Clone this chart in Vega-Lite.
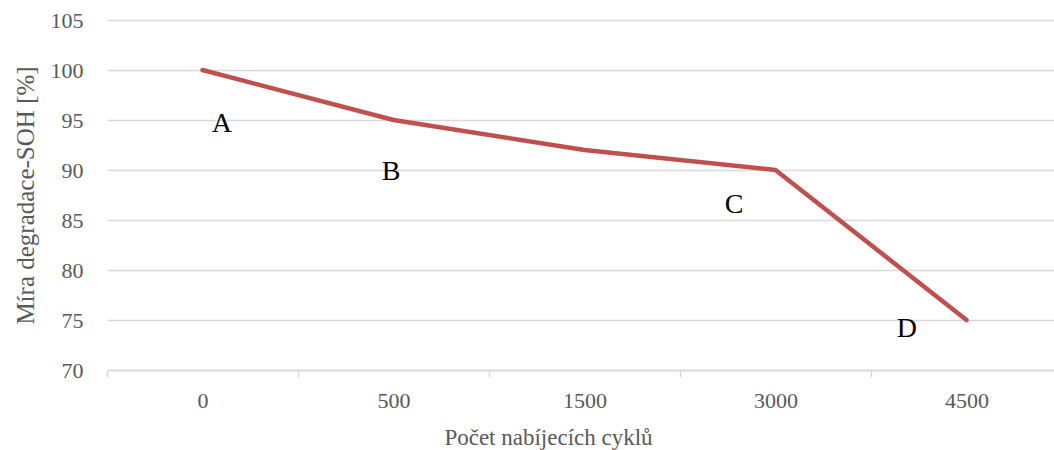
{
  "$schema": "https://vega.github.io/schema/vega-lite/v6.json",
  "autosize": "none",
  "width": 955,
  "height": 350,
  "padding": {"left": 107, "top": 20, "right": 0, "bottom": 80},
  "background": "white",
  "config": {
    "view": {"stroke": null},
    "font": "Liberation Serif"
  },
  "datasets": {
    "series": [
      {"cycles": "0", "soh": 100},
      {"cycles": "500", "soh": 95},
      {"cycles": "1500", "soh": 92},
      {"cycles": "3000", "soh": 90},
      {"cycles": "4500", "soh": 75}
    ],
    "notes": [
      {"pos": 0.602, "val": 93.8, "label": "A"},
      {"pos": 1.487, "val": 89.0, "label": "B"},
      {"pos": 3.283, "val": 85.7, "label": "C"},
      {"pos": 4.188, "val": 73.3, "label": "D"}
    ]
  },
  "layer": [
    {
      "data": {"name": "series"},
      "mark": {"type": "line", "color": "#C0504D", "strokeWidth": 4.5, "strokeCap": "round", "strokeJoin": "round"},
      "encoding": {
        "x": {
          "field": "cycles", "type": "ordinal", "sort": null,
          "scale": {"type": "band", "paddingInner": 0, "paddingOuter": 0},
          "axis": {
            "title": "Počet nabíjecích cyklů",
            "titleFont": "Liberation Serif", "titleFontSize": 23, "titleFontWeight": "normal", "titleColor": "#595959",
            "titleX": 441, "titleY": 74, "titleBaseline": "alphabetic",
            "labelAngle": 0, "labelFontSize": 22, "labelColor": "#595959", "labelBaseline": "alphabetic", "labelPadding": 30,
            "ticks": true, "tickBand": "extent", "tickSize": 7, "tickColor": "#d9d9d9", "tickWidth": 1.5,
            "domainColor": "#d9d9d9", "domainWidth": 1.5, "grid": false
          }
        },
        "y": {
          "field": "soh", "type": "quantitative",
          "scale": {"domain": [70, 105], "nice": false, "zero": false},
          "axis": {
            "title": "Míra degradace-SOH [%]",
            "titleFont": "Liberation Serif", "titleFontSize": 25, "titleFontWeight": "normal", "titleColor": "#595959",
            "titleX": -74, "titleY": 175, "titleBaseline": "alphabetic", "titleAngle": 270, "titleAlign": "center",
            "values": [70, 75, 80, 85, 90, 95, 100, 105],
            "labelFontSize": 22, "labelColor": "#595959", "labelPadding": 24,
            "ticks": false, "domain": false,
            "grid": true, "gridColor": "#d9d9d9", "gridWidth": 1.5
          }
        }
      }
    },
    {
      "data": {"name": "notes"},
      "mark": {"type": "text", "font": "Liberation Serif", "fontSize": 28, "color": "#000000", "baseline": "alphabetic", "align": "center"},
      "encoding": {
        "x": {"field": "pos", "type": "quantitative", "scale": {"domain": [0, 5], "nice": false, "zero": false}, "axis": null},
        "y": {"field": "val", "type": "quantitative"},
        "text": {"field": "label"}
      }
    }
  ],
  "resolve": {"scale": {"x": "independent"}, "axis": {"x": "independent"}}
}
